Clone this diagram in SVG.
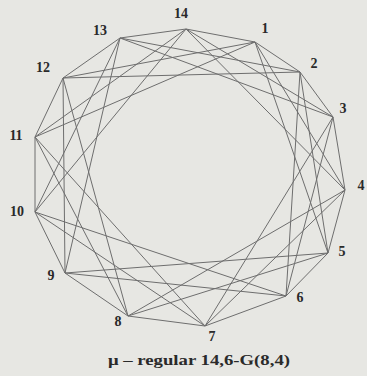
<svg xmlns="http://www.w3.org/2000/svg" width="367" height="376" viewBox="0 0 367 376">
<style>
.bg{fill:#e7e7e3}
.e{stroke:#6e6e6e;stroke-width:1;fill:none;stroke-linejoin:round}
.lb{font-family:"Liberation Serif",serif;font-size:14px;font-weight:bold;fill:#2a2a2a;text-anchor:middle;dominant-baseline:central}
.cap{font-family:"Liberation Serif",serif;font-size:15px;font-weight:bold;fill:#2a2a2a;text-anchor:middle}
</style>
<rect class="bg" width="367" height="376"/>
<g id="connectors">
<path class="e" d="M186,29L255,42L300,72L333,117L345,190L328,253L286,296L205,326L128,316L65,273L35,212L35,137L63,78L120,38Z"/>
<path class="e" d="M186,29L333,117M255,42L345,190M300,72L328,253M333,117L286,296M345,190L205,326M328,253L128,316M286,296L65,273M205,326L35,212M128,316L35,137M65,273L63,78M35,212L120,38M35,137L186,29M63,78L255,42M120,38L300,72"/>
<path class="e" d="M186,29L345,190M255,42L328,253M300,72L286,296M333,117L205,326M345,190L128,316M328,253L65,273M286,296L35,212M205,326L35,137M128,316L63,78M65,273L120,38M35,212L186,29M35,137L255,42M63,78L300,72M120,38L333,117"/>
</g>
<g id="n14"><text class="lb" x="181" y="13">14</text></g>
<g id="n1"><text class="lb" x="265" y="28">1</text></g>
<g id="n2"><text class="lb" x="314" y="63">2</text></g>
<g id="n3"><text class="lb" x="343" y="108">3</text></g>
<g id="n4"><text class="lb" x="361" y="185">4</text></g>
<g id="n5"><text class="lb" x="342" y="251">5</text></g>
<g id="n6"><text class="lb" x="300" y="297">6</text></g>
<g id="n7"><text class="lb" x="212" y="336">7</text></g>
<g id="n8"><text class="lb" x="118" y="321">8</text></g>
<g id="n9"><text class="lb" x="51" y="275">9</text></g>
<g id="n10"><text class="lb" x="17" y="211">10</text></g>
<g id="n11"><text class="lb" x="16" y="135">11</text></g>
<g id="n12"><text class="lb" x="43" y="67">12</text></g>
<g id="n13"><text class="lb" x="100" y="30">13</text></g>
<text class="cap" x="199" y="365" textLength="182" lengthAdjust="spacingAndGlyphs">μ – regular 14,6-G(8,4)</text>
</svg>
